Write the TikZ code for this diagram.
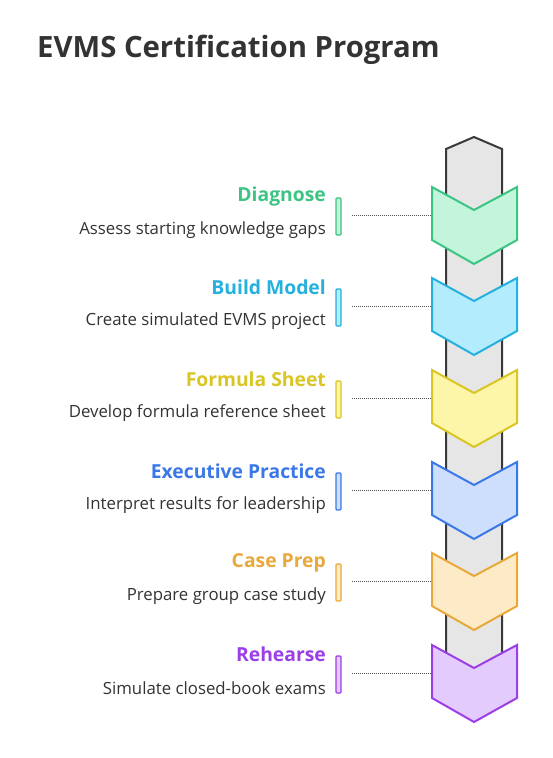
\documentclass[tikz,border=0pt]{standalone}
\usepackage{fontspec}
\setmainfont{Open Sans}
\definecolor{ink}{HTML}{333333}
\definecolor{barline}{HTML}{3A3A3A}
\definecolor{barfill}{HTML}{E6E6E6}
\definecolor{gS}{HTML}{3CC483}\definecolor{gF}{HTML}{C3F5DD}
\definecolor{bS}{HTML}{25B0DD}\definecolor{bF}{HTML}{B3ECFC}
\definecolor{yS}{HTML}{D9C524}\definecolor{yF}{HTML}{FDF5A8}
\definecolor{eS}{HTML}{3B78E7}\definecolor{eF}{HTML}{CDDFFD}
\definecolor{cS}{HTML}{E8A93A}\definecolor{cF}{HTML}{FDEBC8}
\definecolor{pS}{HTML}{9B3EE8}\definecolor{pF}{HTML}{E3CCFD}
\tikzset{
  titletext/.style={anchor=east,font=\bfseries\fontsize{19.3}{22}\selectfont,inner sep=0pt},
  desctext/.style={anchor=east,font=\fontsize{16.8}{19}\selectfont,text=ink,inner sep=0pt},
  indicator/.style={draw=#1,line width=1.2pt,rounded corners=1pt,minimum width=5pt,minimum height=37pt,inner sep=0pt},
  dotline/.style={gray!70!black,line width=0.7pt,dash pattern=on 1pt off 1pt},
  chev/.style={line width=2pt,line join=miter},
}
\begin{document}
\begin{tikzpicture}[x=1pt,y=-1pt]
\useasboundingbox (0,0) rectangle (552,758);
\fill[white] (0,0) rectangle (552,758);
\node[anchor=west,inner sep=0pt,text=ink,font=\bfseries\fontsize{29.3}{33}\selectfont] (title) at (37,50) {EVMS Certification Program};
% spine
\draw[barline,fill=barfill,line width=2pt,line join=miter] (446,149) -- (474,137) -- (502,149) -- (502,700) -- (446,700) -- cycle;
% rows
\foreach \T/\S/\F/\name/\desc/\id in {
 187/gS/gF/Diagnose/Assess starting knowledge gaps/a,
 278/bS/bF/Build Model/Create simulated EVMS project/b,
 370/yS/yF/Formula Sheet/Develop formula reference sheet/c,
 462/eS/eF/Executive Practice/Interpret results for leadership/d,
 553/cS/cF/Case Prep/Prepare group case study/e,
 645/pS/pF/Rehearse/Simulate closed-book exams/f}{
  \draw[chev,draw=\S,fill=\F] (432,\T) -- (474,\T+23) -- (517,\T) -- (517,\T+53) -- (474,\T+77) -- (432,\T+53) -- cycle;
  \coordinate (ch\id) at (431,\T+28);
  \node[titletext,text=\S] (t\id) at (326,\T+9.5) {\name};
  \node[desctext] (d\id) at (326,\T+43) {\desc};
  \node[indicator=\S,fill=\F] (i\id) at (338.5,\T+29.5) {};
  \draw[dotline] ([xshift=10pt]i\id.east |- ch\id) -- (ch\id);
}
\end{tikzpicture}
\end{document}
